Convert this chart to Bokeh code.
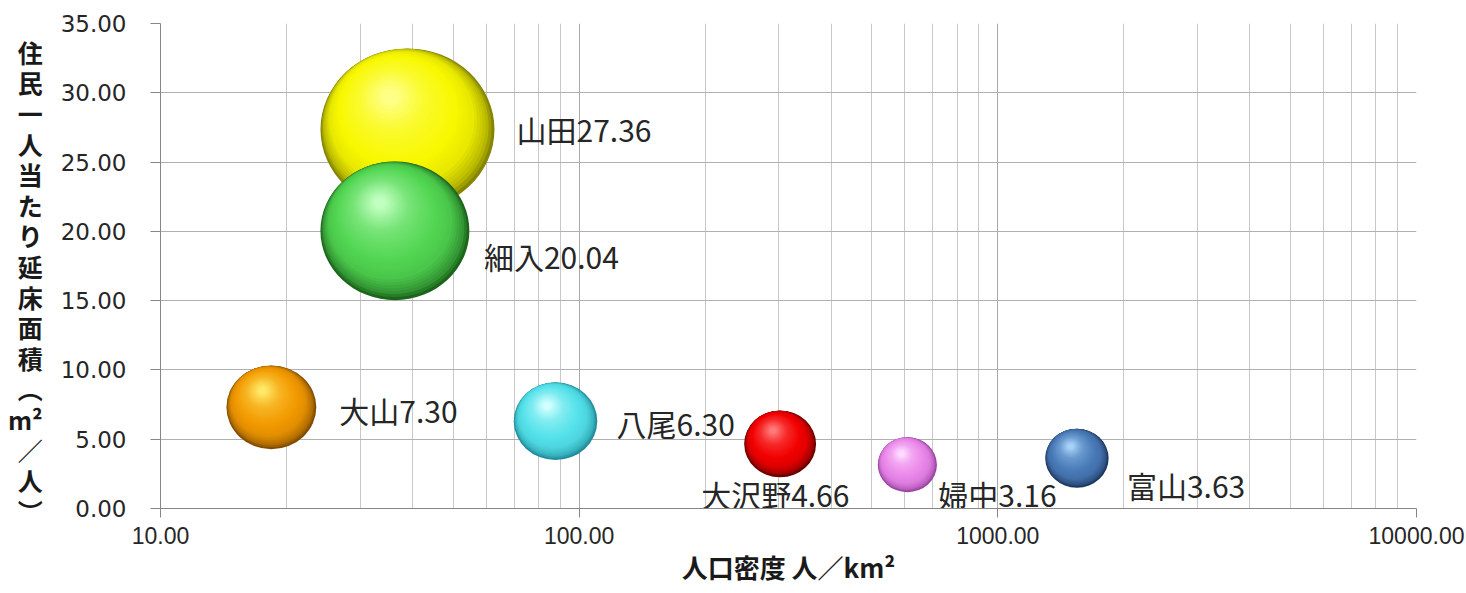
import math
from bokeh.plotting import figure
from bokeh.models import ColumnDataSource, FixedTicker, PrintfTickFormatter
from bokeh.embed import file_html
from bokeh.resources import INLINE
from bokeh.core.properties import value

# ---------------- data ----------------
names = ["山田", "細入", "大山", "八尾", "大沢野", "婦中", "富山"]
density = [38.9, 36.3, 18.4, 87.8, 302.0, 608.0, 1545.0]      # 人口密度 人/km2
floor_area = [27.36, 20.04, 7.30, 6.30, 4.66, 3.16, 3.63]     # 住民一人当たり延床面積
bubble_size = [27.36, 20.04, 7.30, 6.30, 4.66, 3.16, 3.63]
x_ticks = [10, 100, 1000, 10000]
y_ticks = [0, 5, 10, 15, 20, 25, 30, 35]
x_title = "人口密度 人／km²"
y_title_chars = ["住", "民", "一", "人", "当", "た", "り", "延", "床", "面", "積", "︵", "m²", "／", "人", "︶"]

# ---------------- styles ----------------
edge_colors = ["#858500", "#1c661c", "#824c00", "#1f8c9a", "#660000", "#96409e", "#1a355c"]
base_colors = ["#f8f800", "#52d652", "#f29a00", "#55e2ea", "#f20000", "#ea88ea", "#4a7bb8"]
high_colors = ["#ffff88", "#c0ffc0", "#ffe868", "#d2ffff", "#ff7a7a", "#ffdcff", "#a6d2f8"]
label_offsets = [(109, 0), (89, 25), (68, 3), (61, 2), (-79, 50), (31, 29), (50, 27)]

W, H = 1466, 593
BL, BR, BT, BB = 160, 50, 23, 85
fw, fh = W - BL - BR, H - BT - BB
ppd = fw / math.log10(x_ticks[-1] / x_ticks[0])
ppu = fh / (y_ticks[-1] - y_ticks[0])
RX, RY = 87.0, 81.0
smax = max(bubble_size)


def hex2rgb(c):
    c = c.lstrip("#")
    return tuple(int(c[i:i + 2], 16) for i in (0, 2, 4))


def mix(c1, c2, t):
    a, b = hex2rgb(c1), hex2rgb(c2)
    return "#%02x%02x%02x" % tuple(int(round(a[i] + (b[i] - a[i]) * t)) for i in range(3))


def shade(i, t):
    e, b, h = edge_colors[i], base_colors[i], high_colors[i]
    stops = [(0.0, e), (0.05, mix(e, b, 0.45)), (0.16, mix(e, b, 0.85)), (0.32, b),
             (0.62, mix(b, h, 0.35)), (0.92, h)]
    for k in range(len(stops) - 1):
        t0, c0 = stops[k]
        t1, c1 = stops[k + 1]
        if t <= t1:
            return mix(c0, c1, (t - t0) / (t1 - t0))
    return stops[-1][1]


p = figure(width=W, height=H, x_axis_type="log",
           x_range=(x_ticks[0], x_ticks[-1]), y_range=(y_ticks[0], y_ticks[-1]),
           output_backend="svg", toolbar_location=None,
           min_border_left=BL, min_border_right=BR, min_border_top=BT, min_border_bottom=BB)
p.outline_line_color = None
p.background_fill_color = "white"
p.border_fill_color = "white"

minor = [m * d for d in x_ticks[:-1] for m in range(2, 10)]
xt = FixedTicker(ticks=x_ticks, minor_ticks=minor)
p.xaxis.ticker = xt
p.xgrid.ticker = xt
p.xaxis.formatter = PrintfTickFormatter(format="%.2f")
yt = FixedTicker(ticks=y_ticks)
p.yaxis.ticker = yt
p.ygrid.ticker = yt
p.yaxis.formatter = PrintfTickFormatter(format="%.2f")

p.xgrid.grid_line_color = "#a8a8a8"
p.xgrid.minor_grid_line_color = "#c8c8c8"
p.ygrid.grid_line_color = "#b0b0b0"

for ax in (p.xaxis, p.yaxis):
    ax.axis_line_color = "#868686"
    ax.major_tick_line_color = "#868686"
    ax.major_tick_in = 0
    ax.minor_tick_in = 0
    ax.minor_tick_out = 0
    ax.major_label_text_color = "#262626"
    ax.axis_label_text_font = "Noto Sans CJK JP"
    ax.axis_label_text_font_style = "bold"
    ax.axis_label_text_color = "#1a1a1a"

p.xaxis.major_tick_out = 9
p.xaxis.major_label_standoff = 9
p.xaxis.major_label_text_font = "Liberation Sans"
p.xaxis.major_label_text_font_size = "23px"
p.xaxis.axis_label = x_title
p.xaxis.axis_label_text_font_size = "26px"
p.xaxis.axis_label_standoff = 1

p.yaxis.major_tick_out = 10
p.yaxis.major_label_standoff = 24
p.yaxis.major_label_text_font = "DejaVu Sans"
p.yaxis.major_label_text_font_size = "23px"
p.yaxis.axis_label = "\n".join(["\u3000"] + y_title_chars)
p.yaxis.axis_label_orientation = "horizontal"
p.yaxis.axis_label_text_font_size = "25px"
p.yaxis.axis_label_text_line_height = 0.85
p.yaxis.axis_label_standoff = 15

# ---------------- bubbles (shaded spheres) ----------------
N = 40
order = sorted(range(len(names)), key=lambda i: -bubble_size[i])
for i in order:
    f = math.sqrt(bubble_size[i] / smax)
    rx, ry = RX * f, RY * f
    hx, hy = -0.2 * rx, -0.4 * ry
    xs, ys, ws, hs, cs = [], [], [], [], []
    for k in range(N):
        t = k / (N - 1) * 0.92
        s = 1 - t
        g = 1 - (1 - t / 0.92) ** 2
        dx, dy = g * hx, g * hy
        xs.append(density[i] * 10 ** (dx / ppd))
        ys.append(floor_area[i] - dy / ppu)
        ws.append(2 * rx * s)
        hs.append(2 * ry * s)
        cs.append(shade(i, t))
    src = ColumnDataSource(dict(x=xs, y=ys, w=ws, h=hs, c=cs))
    p.ellipse(x="x", y="y", width="w", height="h", width_units="screen", height_units="screen",
              fill_color="c", line_color=None, source=src)

# ---------------- data labels ----------------
lab = ColumnDataSource(dict(
    x=density, y=floor_area,
    text=[f"{n}{v:.2f}" for n, v in zip(names, floor_area)],
    dx=[o[0] for o in label_offsets], dy=[o[1] for o in label_offsets]))
p.text(x="x", y="y", text="text", x_offset="dx", y_offset="dy", source=lab,
       text_font=value("Noto Sans CJK JP"), text_font_size="30px",
       text_align="left", text_baseline="middle", text_color="#262626")

open("out.html", "w").write(file_html(p, INLINE))
